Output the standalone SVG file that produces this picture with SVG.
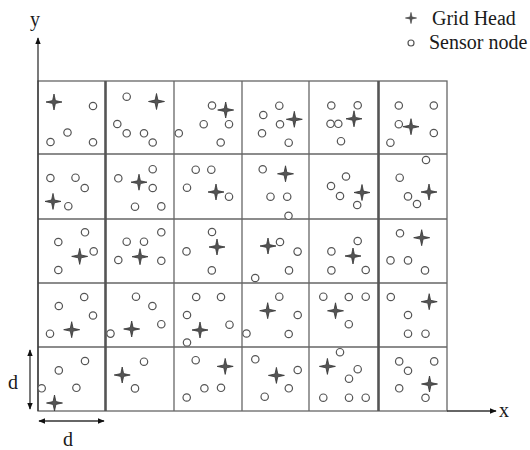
<svg xmlns="http://www.w3.org/2000/svg" xmlns:xlink="http://www.w3.org/1999/xlink" width="530" height="450" viewBox="0 0 530 450">
<style>
.g{stroke:#666;stroke-width:1.3;fill:none}
.gt{stroke:#555;stroke-width:2.6;fill:none}
.s{fill:#fff;stroke:#555;stroke-width:1.2}
.ax{stroke:#333;stroke-width:1.3;fill:none}
.t{font-family:"Liberation Serif","Times New Roman",serif;font-size:20px;fill:#1a1a1a}
</style>
<defs>
<path id="gh" d="M0,-8 L1.4,-1.4 L8,0 L1.4,1.4 L0,8 L-1.4,1.4 L-8,0 L-1.4,-1.4 Z" fill="#555" stroke="#333" stroke-width="0.8" stroke-linejoin="round"/>
<marker id="ah" viewBox="0 0 10 10" refX="9" refY="5" markerWidth="7" markerHeight="7" markerUnits="userSpaceOnUse" orient="auto-start-reverse"><path d="M0,1 L10,5 L0,9 Z" fill="#111"/></marker>
</defs>
<rect width="530" height="450" fill="#fff"/>
<g id="grid">
<rect class="g" x="38" y="81" width="409" height="330"/>
<line class="g" x1="38" y1="154" x2="447" y2="154"/>
<line class="g" x1="38" y1="219" x2="447" y2="219"/>
<line class="g" x1="38" y1="283" x2="447" y2="283"/>
<line class="g" x1="38" y1="347" x2="447" y2="347"/>
<line class="gt" x1="105.5" y1="81" x2="105.5" y2="411"/>
<line class="g" x1="174" y1="81" x2="174" y2="411"/>
<line class="g" x1="242" y1="81" x2="242" y2="411"/>
<line class="g" x1="309" y1="81" x2="309" y2="411"/>
<line class="gt" x1="378.5" y1="81" x2="378.5" y2="411"/>
</g>
<g id="connectors">
<line class="ax" x1="38" y1="411" x2="38" y2="38" marker-end="url(#ah)"/>
<line class="ax" x1="447" y1="411" x2="496" y2="411" marker-end="url(#ah)"/>
<line class="ax" x1="30" y1="350" x2="30" y2="409" marker-start="url(#ah)" marker-end="url(#ah)"/>
<line class="ax" x1="39" y1="421" x2="104" y2="421" marker-start="url(#ah)" marker-end="url(#ah)"/>
</g>
<g id="labels">
<text class="t" x="30" y="26">y</text>
<text class="t" x="499" y="417">x</text>
<text class="t" x="8" y="389">d</text>
<text class="t" x="63" y="446">d</text>
</g>
<g id="legend">
<use xlink:href="#gh" transform="translate(411,18) scale(0.7)"/>
<text class="t" x="432" y="25">Grid Head</text>
<circle class="s" cx="411" cy="43" r="3"/>
<text class="t" x="429" y="49">Sensor node</text>
</g>
<g id="cell-r0c0"><use xlink:href="#gh" x="54" y="102"/><circle class="s" cx="93" cy="106" r="3.7"/><circle class="s" cx="67.5" cy="132.5" r="3.7"/><circle class="s" cx="50.5" cy="142" r="3.7"/><circle class="s" cx="93" cy="142.3" r="3.7"/></g>
<g id="cell-r0c1"><use xlink:href="#gh" x="156.5" y="101.5"/><circle class="s" cx="126.7" cy="96.7" r="3.7"/><circle class="s" cx="117.3" cy="124" r="3.7"/><circle class="s" cx="126.7" cy="133.3" r="3.7"/><circle class="s" cx="144" cy="133.3" r="3.7"/><circle class="s" cx="152.7" cy="142.5" r="3.7"/></g>
<g id="cell-r0c2"><circle class="s" cx="212" cy="105.5" r="3.7"/><use xlink:href="#gh" x="225.7" y="110"/><circle class="s" cx="229" cy="124.2" r="3.7"/><circle class="s" cx="203.7" cy="124.2" r="3.7"/><circle class="s" cx="178.8" cy="133.3" r="3.7"/><circle class="s" cx="220.7" cy="142.5" r="3.7"/></g>
<g id="cell-r0c3"><use xlink:href="#gh" x="294.3" y="119.3"/><circle class="s" cx="279.3" cy="105.7" r="3.7"/><circle class="s" cx="263.3" cy="115" r="3.7"/><circle class="s" cx="280" cy="124.3" r="3.7"/><circle class="s" cx="262" cy="133.3" r="3.7"/><circle class="s" cx="288.7" cy="142.7" r="3.7"/></g>
<g id="cell-r0c4"><circle class="s" cx="331.3" cy="105.5" r="3.7"/><circle class="s" cx="357.7" cy="105.3" r="3.7"/><circle class="s" cx="330.5" cy="123.8" r="3.7"/><circle class="s" cx="338.3" cy="123.8" r="3.7"/><use xlink:href="#gh" x="354" y="118.8"/><circle class="s" cx="341" cy="141.2" r="3.7"/></g>
<g id="cell-r0c5"><circle class="s" cx="398.8" cy="105.5" r="3.7"/><circle class="s" cx="433.8" cy="105.5" r="3.7"/><circle class="s" cx="398.8" cy="124.2" r="3.7"/><use xlink:href="#gh" x="411" y="126.7"/><circle class="s" cx="433.8" cy="133" r="3.7"/><circle class="s" cx="390.4" cy="142.7" r="3.7"/></g>
<g id="cell-r1c0"><circle class="s" cx="50.4" cy="178" r="3.7"/><circle class="s" cx="75.5" cy="177.7" r="3.7"/><circle class="s" cx="84.7" cy="188" r="3.7"/><circle class="s" cx="68.3" cy="206.2" r="3.7"/><use xlink:href="#gh" x="53" y="201.4"/></g>
<g id="cell-r1c1"><circle class="s" cx="152.7" cy="169.2" r="3.7"/><circle class="s" cx="118.3" cy="178.3" r="3.7"/><circle class="s" cx="152.7" cy="188" r="3.7"/><use xlink:href="#gh" x="139" y="182.2"/><circle class="s" cx="135" cy="206.7" r="3.7"/><circle class="s" cx="161.3" cy="206.4" r="3.7"/></g>
<g id="cell-r1c2"><circle class="s" cx="195.7" cy="169.7" r="3.7"/><circle class="s" cx="211.3" cy="169.7" r="3.7"/><circle class="s" cx="187" cy="187.7" r="3.7"/><circle class="s" cx="229" cy="196.7" r="3.7"/><use xlink:href="#gh" x="216" y="192"/></g>
<g id="cell-r1c3"><use xlink:href="#gh" x="285.5" y="173.8"/><circle class="s" cx="262.7" cy="169.3" r="3.7"/><circle class="s" cx="270.5" cy="196.7" r="3.7"/><circle class="s" cx="287.2" cy="196.7" r="3.7"/><circle class="s" cx="288.5" cy="215.8" r="3.7"/></g>
<g id="cell-r1c4"><circle class="s" cx="346" cy="176.5" r="3.7"/><circle class="s" cx="331" cy="186" r="3.7"/><circle class="s" cx="340" cy="196" r="3.7"/><use xlink:href="#gh" x="362" y="192.5"/><circle class="s" cx="357.2" cy="205" r="3.7"/></g>
<g id="cell-r1c5"><circle class="s" cx="426" cy="160" r="3.7"/><circle class="s" cx="399.7" cy="177.7" r="3.7"/><use xlink:href="#gh" x="429" y="192"/><circle class="s" cx="408" cy="196.4" r="3.7"/><circle class="s" cx="417" cy="204" r="3.7"/></g>
<g id="cell-r2c0"><circle class="s" cx="85" cy="232.3" r="3.7"/><circle class="s" cx="58.3" cy="242" r="3.7"/><circle class="s" cx="93.7" cy="251.4" r="3.7"/><use xlink:href="#gh" x="79.7" y="256.4"/><circle class="s" cx="58.3" cy="270" r="3.7"/></g>
<g id="cell-r2c1"><circle class="s" cx="161.3" cy="232.3" r="3.7"/><circle class="s" cx="126.7" cy="241.7" r="3.7"/><circle class="s" cx="144" cy="241.7" r="3.7"/><use xlink:href="#gh" x="140" y="256.7"/><circle class="s" cx="118.3" cy="260" r="3.7"/><circle class="s" cx="161.3" cy="260.8" r="3.7"/></g>
<g id="cell-r2c2"><circle class="s" cx="212" cy="232" r="3.7"/><use xlink:href="#gh" x="217" y="247"/><circle class="s" cx="186.5" cy="251.4" r="3.7"/><circle class="s" cx="211.8" cy="270.4" r="3.7"/></g>
<g id="cell-r2c3"><use xlink:href="#gh" x="268" y="246"/><circle class="s" cx="280" cy="242" r="3.7"/><circle class="s" cx="297.6" cy="251.6" r="3.7"/><circle class="s" cx="289" cy="270.4" r="3.7"/><circle class="s" cx="255.2" cy="278" r="3.7"/></g>
<g id="cell-r2c4"><circle class="s" cx="357.7" cy="241" r="3.7"/><use xlink:href="#gh" x="353" y="256"/><circle class="s" cx="331.4" cy="251.4" r="3.7"/><circle class="s" cx="331.4" cy="270.4" r="3.7"/><circle class="s" cx="365.7" cy="270" r="3.7"/></g>
<g id="cell-r2c5"><circle class="s" cx="400" cy="233.3" r="3.7"/><use xlink:href="#gh" x="421.7" y="237.7"/><circle class="s" cx="390.5" cy="260.4" r="3.7"/><circle class="s" cx="408" cy="260.4" r="3.7"/><circle class="s" cx="425" cy="270.4" r="3.7"/></g>
<g id="cell-r3c0"><circle class="s" cx="84.2" cy="297" r="3.7"/><circle class="s" cx="58.8" cy="306" r="3.7"/><circle class="s" cx="93" cy="315.5" r="3.7"/><use xlink:href="#gh" x="71.7" y="329.7"/><circle class="s" cx="50" cy="333.7" r="3.7"/></g>
<g id="cell-r3c1"><circle class="s" cx="136" cy="296.7" r="3.7"/><circle class="s" cx="152.4" cy="306" r="3.7"/><circle class="s" cx="161.3" cy="324.2" r="3.7"/><use xlink:href="#gh" x="131.7" y="329"/><circle class="s" cx="110.5" cy="333.6" r="3.7"/></g>
<g id="cell-r3c2"><circle class="s" cx="196.2" cy="297" r="3.7"/><circle class="s" cx="221" cy="297" r="3.7"/><circle class="s" cx="187" cy="315" r="3.7"/><use xlink:href="#gh" x="200" y="330"/><circle class="s" cx="229.5" cy="324.7" r="3.7"/><circle class="s" cx="187" cy="342.5" r="3.7"/></g>
<g id="cell-r3c3"><circle class="s" cx="279.3" cy="296.7" r="3.7"/><use xlink:href="#gh" x="267.7" y="310.7"/><circle class="s" cx="297.7" cy="315" r="3.7"/><circle class="s" cx="288.7" cy="334" r="3.7"/><circle class="s" cx="246.5" cy="333.5" r="3.7"/></g>
<g id="cell-r3c4"><circle class="s" cx="323.3" cy="296.7" r="3.7"/><circle class="s" cx="348.8" cy="297" r="3.7"/><circle class="s" cx="365.7" cy="296.7" r="3.7"/><use xlink:href="#gh" x="335.5" y="310.8"/><circle class="s" cx="348.8" cy="324.2" r="3.7"/></g>
<g id="cell-r3c5"><circle class="s" cx="390.8" cy="297" r="3.7"/><use xlink:href="#gh" x="429.2" y="301.7"/><circle class="s" cx="408" cy="315" r="3.7"/><circle class="s" cx="408" cy="333.7" r="3.7"/><circle class="s" cx="425.5" cy="333.7" r="3.7"/></g>
<g id="cell-r4c0"><circle class="s" cx="85" cy="361" r="3.7"/><circle class="s" cx="58.8" cy="370.4" r="3.7"/><circle class="s" cx="41.7" cy="388.3" r="3.7"/><circle class="s" cx="76.4" cy="387.8" r="3.7"/><use xlink:href="#gh" x="54.5" y="403"/></g>
<g id="cell-r4c1"><circle class="s" cx="144" cy="361.7" r="3.7"/><use xlink:href="#gh" x="122.2" y="375"/><circle class="s" cx="135" cy="388.4" r="3.7"/></g>
<g id="cell-r4c2"><circle class="s" cx="195.7" cy="360.2" r="3.7"/><use xlink:href="#gh" x="225.2" y="366.4"/><circle class="s" cx="221" cy="387.8" r="3.7"/><circle class="s" cx="204.4" cy="388.3" r="3.7"/><circle class="s" cx="186.7" cy="397.5" r="3.7"/></g>
<g id="cell-r4c3"><circle class="s" cx="255.3" cy="359.3" r="3.7"/><use xlink:href="#gh" x="276.4" y="375.4"/><circle class="s" cx="297.7" cy="370" r="3.7"/><circle class="s" cx="288.8" cy="388.3" r="3.7"/><circle class="s" cx="264.7" cy="396.7" r="3.7"/></g>
<g id="cell-r4c4"><circle class="s" cx="340" cy="352.2" r="3.7"/><use xlink:href="#gh" x="327.4" y="366.4"/><circle class="s" cx="357.7" cy="369.2" r="3.7"/><circle class="s" cx="349" cy="378.7" r="3.7"/><circle class="s" cx="323.3" cy="397.7" r="3.7"/><circle class="s" cx="349" cy="397.7" r="3.7"/><circle class="s" cx="365.7" cy="397.7" r="3.7"/></g>
<g id="cell-r4c5"><circle class="s" cx="399.2" cy="361.4" r="3.7"/><circle class="s" cx="408" cy="370.8" r="3.7"/><circle class="s" cx="434.2" cy="361.4" r="3.7"/><circle class="s" cx="399.2" cy="388.3" r="3.7"/><use xlink:href="#gh" x="429.5" y="384"/><circle class="s" cx="425.5" cy="397.8" r="3.7"/></g>
</svg>
